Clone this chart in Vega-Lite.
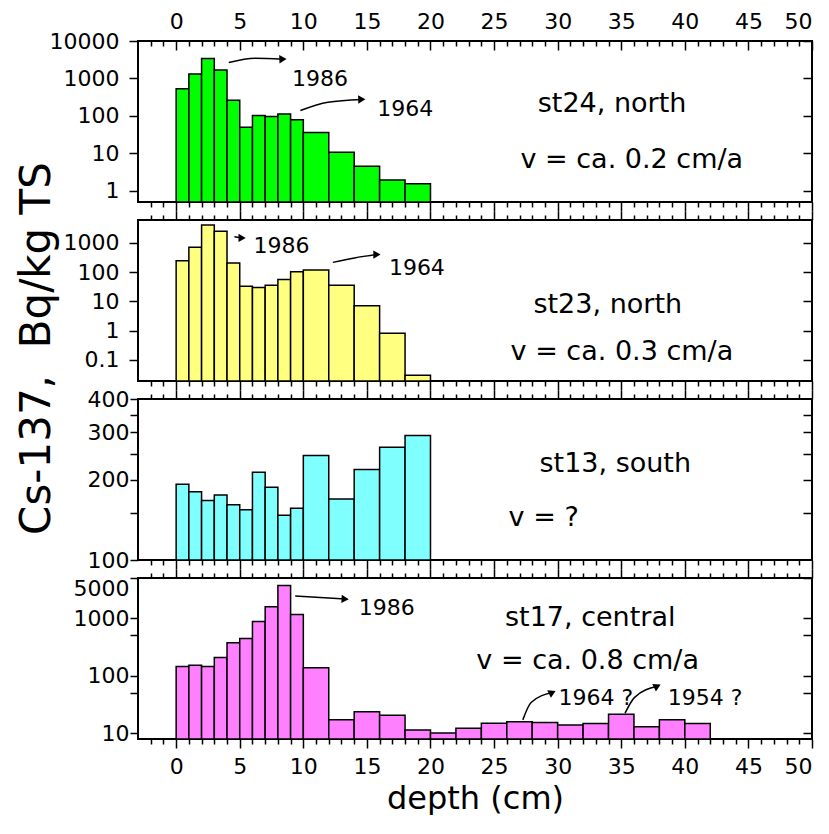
{
  "$schema": "https://vega.github.io/schema/vega-lite/v6.json",
  "padding": {"left": 14, "top": 5, "right": 0, "bottom": 0},
  "background": "white",
  "spacing": 18,
  "bounds": "flush",
  "config": {
    "view": {"stroke": "black", "strokeWidth": 2},
    "axis": {"domain": false, "grid": false, "tickColor": "black", "tickWidth": 1.5, "labelColor": "black", "labelFont": "DejaVu Sans", "labelFontSize": 22, "titleFont": "DejaVu Sans", "titleColor": "black", "titleFontWeight": "normal", "labelOverlap": false, "labelBound": false},
    "text": {"font": "DejaVu Sans", "color": "black"}
  },
  "datasets": {
    "b24": [
      {"from": 0, "to": 1, "cs": 533}, {"from": 1, "to": 2, "cs": 1306}, {"from": 2, "to": 3, "cs": 3396}, {"from": 3, "to": 4, "cs": 1668},
      {"from": 4, "to": 5, "cs": 261}, {"from": 5, "to": 6, "cs": 50}, {"from": 6, "to": 7, "cs": 103}, {"from": 7, "to": 8, "cs": 96},
      {"from": 8, "to": 9, "cs": 113}, {"from": 9, "to": 10, "cs": 79}, {"from": 10, "to": 12, "cs": 36}, {"from": 12, "to": 14, "cs": 10.7},
      {"from": 14, "to": 16, "cs": 4.5}, {"from": 16, "to": 18, "cs": 1.93}, {"from": 18, "to": 20, "cs": 1.54}
    ],
    "b23": [
      {"from": 0, "to": 1, "cs": 245}, {"from": 1, "to": 2, "cs": 705}, {"from": 2, "to": 3, "cs": 4045}, {"from": 3, "to": 4, "cs": 2455},
      {"from": 4, "to": 5, "cs": 204}, {"from": 5, "to": 6, "cs": 33}, {"from": 6, "to": 7, "cs": 29.5}, {"from": 7, "to": 8, "cs": 35.6},
      {"from": 8, "to": 9, "cs": 55.6}, {"from": 9, "to": 10, "cs": 102}, {"from": 10, "to": 12, "cs": 117}, {"from": 12, "to": 14, "cs": 35.6},
      {"from": 14, "to": 16, "cs": 7.0}, {"from": 16, "to": 18, "cs": 0.81}, {"from": 18, "to": 20, "cs": 0.03}
    ],
    "b13": [
      {"from": 0, "to": 1, "cs": 192}, {"from": 1, "to": 2, "cs": 180}, {"from": 2, "to": 3, "cs": 167}, {"from": 3, "to": 4, "cs": 175},
      {"from": 4, "to": 5, "cs": 161}, {"from": 5, "to": 6, "cs": 154}, {"from": 6, "to": 7, "cs": 213}, {"from": 7, "to": 8, "cs": 187},
      {"from": 8, "to": 9, "cs": 147}, {"from": 9, "to": 10, "cs": 156}, {"from": 10, "to": 12, "cs": 246}, {"from": 12, "to": 14, "cs": 169},
      {"from": 14, "to": 16, "cs": 218}, {"from": 16, "to": 18, "cs": 264}, {"from": 18, "to": 20, "cs": 292}
    ],
    "b17": [
      {"from": 0, "to": 1, "cs": 144}, {"from": 1, "to": 2, "cs": 152}, {"from": 2, "to": 3, "cs": 144}, {"from": 3, "to": 4, "cs": 206},
      {"from": 4, "to": 5, "cs": 374}, {"from": 5, "to": 6, "cs": 444}, {"from": 6, "to": 7, "cs": 873}, {"from": 7, "to": 8, "cs": 1585},
      {"from": 8, "to": 9, "cs": 3715}, {"from": 9, "to": 10, "cs": 1153}, {"from": 10, "to": 12, "cs": 137}, {"from": 12, "to": 14, "cs": 17},
      {"from": 14, "to": 16, "cs": 23.5}, {"from": 16, "to": 18, "cs": 20.5}, {"from": 18, "to": 20, "cs": 11.3}, {"from": 20, "to": 22, "cs": 10.0},
      {"from": 22, "to": 24, "cs": 12.2}, {"from": 24, "to": 26, "cs": 14.9}, {"from": 26, "to": 28, "cs": 15.7}, {"from": 28, "to": 30, "cs": 15.3},
      {"from": 30, "to": 32, "cs": 13.8}, {"from": 32, "to": 34, "cs": 14.7}, {"from": 34, "to": 36, "cs": 21.4}, {"from": 36, "to": 38, "cs": 12.9},
      {"from": 38, "to": 40, "cs": 17.0}, {"from": 40, "to": 42, "cs": 14.7}
    ],
    "t24": [{"x": 34.28, "y": 213, "label": "st24, north"}, {"x": 35.83, "y": 6.56, "label": "v = ca. 0.2 cm/a"}],
    "y24": [{"x": 11.32, "y": 964, "label": "1986"}, {"x": 18.02, "y": 154, "label": "1964"}],
    "a24": [
      {"id": "a", "seq": 1, "x": 4.14, "y": 2655}, {"id": "a", "seq": 2, "x": 6.2, "y": 3450}, {"id": "a", "seq": 3, "x": 8.4, "y": 3271},
      {"id": "b", "seq": 1, "x": 9.77, "y": 139}, {"id": "b", "seq": 2, "x": 11.93, "y": 231}, {"id": "b", "seq": 3, "x": 14.6, "y": 275}
    ],
    "h24": [{"x": 8.4, "y": 3271}, {"x": 14.6, "y": 275}],
    "t23": [{"x": 33.94, "y": 7.45, "label": "st23, north"}, {"x": 35.05, "y": 0.183, "label": "v = ca. 0.3 cm/a"}],
    "y23": [{"x": 8.28, "y": 763, "label": "1986"}, {"x": 18.93, "y": 137, "label": "1964"}],
    "a23": [
      {"id": "a", "seq": 1, "x": 4.58, "y": 1611}, {"id": "a", "seq": 2, "x": 5.19, "y": 1464},
      {"id": "b", "seq": 1, "x": 12.32, "y": 214}, {"id": "b", "seq": 2, "x": 14.02, "y": 304}, {"id": "b", "seq": 3, "x": 15.79, "y": 395}
    ],
    "h23": [{"x": 5.19, "y": 1464}, {"x": 15.79, "y": 395}],
    "t13": [{"x": 34.53, "y": 229, "label": "st13, south"}, {"x": 28.9, "y": 143, "label": "v = ?"}],
    "t17": [{"x": 32.56, "y": 1000, "label": "st17, central"}, {"x": 32.36, "y": 178, "label": "v = ca. 0.8 cm/a"}],
    "y17": [{"x": 16.57, "y": 1489, "label": "1986"}, {"x": 33.0, "y": 41.5, "label": "1964 ?"}, {"x": 41.6, "y": 41.5, "label": "1954 ?"}],
    "a17": [
      {"id": "a", "seq": 1, "x": 9.36, "y": 2427}, {"id": "a", "seq": 2, "x": 13.29, "y": 2153},
      {"id": "b", "seq": 1, "x": 27.26, "y": 17.0}, {"id": "b", "seq": 2, "x": 27.91, "y": 34.0}, {"id": "b", "seq": 3, "x": 29.58, "y": 50.9},
      {"id": "c", "seq": 1, "x": 35.3, "y": 22.3}, {"id": "c", "seq": 2, "x": 36.03, "y": 41.5}, {"id": "c", "seq": 3, "x": 37.84, "y": 65.6}
    ],
    "h17a": [{"x": 13.29, "y": 2153}],
    "h17b": [{"x": 29.58, "y": 50.9}, {"x": 37.84, "y": 65.6}]
  },
  "vconcat": [
    {
      "width": 674, "height": 161,
      "resolve": {"axis": {"x": "independent", "y": "independent"}},
      "layer": [
        {
          "data": {"name": "b24"},
          "mark": {"type": "bar", "fill": "#00ff00", "stroke": "black", "strokeWidth": 1.5},
          "encoding": {
            "x": {"field": "from", "type": "quantitative", "scale": {"domain": [-3, 50], "nice": false, "zero": false},
              "axis": {"orient": "bottom", "title": null, "labels": false, "values": [-2,-1,0,1,2,3,4,5,6,7,8,9,10,11,12,13,14,15,16,17,18,19,20,21,22,23,24,25,26,27,28,29,30,31,32,33,34,35,36,37,38,39,40,41,42,43,44,45,46,47,48,49,50],
                "tickSize": {"condition": {"test": "datum.value % 5 === 0", "value": 9}, "value": 5}}},
            "x2": {"field": "to"},
            "y": {"field": "cs", "type": "quantitative", "scale": {"type": "log", "domain": [0.5, 10000], "nice": false},
              "axis": {"orient": "left", "title": null, "values": [1, 10, 100, 1000, 10000], "labelExpr": "'' + datum.value", "tickSize": 9, "labelPadding": 10}},
            "y2": {"datum": 0.5}
          }
        },
        {
          "data": {"name": "a24"},
          "mark": {"type": "line", "color": "black", "strokeWidth": 1.5, "interpolate": "monotone"},
          "encoding": {
            "x": {"field": "x", "type": "quantitative", "scale": {"domain": [-3, 50], "nice": false, "zero": false}, "axis": null},
            "y": {"field": "y", "type": "quantitative", "scale": {"type": "log", "domain": [0.5, 10000], "nice": false}, "axis": null},
            "detail": {"field": "id"}, "order": {"field": "seq"}
          }
        },
        {
          "data": {"name": "h24"},
          "mark": {"type": "point", "shape": "triangle-right", "filled": true, "color": "black", "opacity": 1, "size": 70, "angle": -2},
          "encoding": {
            "x": {"field": "x", "type": "quantitative", "scale": {"domain": [-3, 50], "nice": false, "zero": false}, "axis": null},
            "y": {"field": "y", "type": "quantitative", "scale": {"type": "log", "domain": [0.5, 10000], "nice": false}, "axis": null}
          }
        },
        {
          "data": {"name": "y24"},
          "mark": {"type": "text", "fontSize": 22},
          "encoding": {
            "x": {"field": "x", "type": "quantitative", "scale": {"domain": [-3, 50], "nice": false, "zero": false}, "axis": null},
            "y": {"field": "y", "type": "quantitative", "scale": {"type": "log", "domain": [0.5, 10000], "nice": false}, "axis": null},
            "text": {"field": "label"}
          }
        },
        {
          "data": {"name": "t24"},
          "mark": {"type": "text", "fontSize": 27},
          "encoding": {
            "x": {"field": "x", "type": "quantitative", "scale": {"domain": [-3, 50], "nice": false, "zero": false},
              "axis": {"orient": "top", "title": null, "values": [-2,-1,0,1,2,3,4,5,6,7,8,9,10,11,12,13,14,15,16,17,18,19,20,21,22,23,24,25,26,27,28,29,30,31,32,33,34,35,36,37,38,39,40,41,42,43,44,45,46,47,48,49,50],
                "labelExpr": "datum.value % 5 === 0 ? datum.label : ''",
                "tickSize": {"condition": {"test": "datum.value % 5 === 0", "value": -9}, "value": -5}, "labelPadding": 17}},
            "y": {"field": "y", "type": "quantitative", "scale": {"type": "log", "domain": [0.5, 10000], "nice": false},
              "axis": {"orient": "right", "title": null, "values": [1, 10, 100, 1000, 10000], "labels": false, "tickSize": -9}},
            "text": {"field": "label"}
          }
        }
      ]
    },
    {
      "width": 674, "height": 161,
      "resolve": {"axis": {"x": "independent", "y": "independent"}},
      "layer": [
        {
          "data": {"name": "b23"},
          "mark": {"type": "bar", "fill": "#ffff80", "stroke": "black", "strokeWidth": 1.5},
          "encoding": {
            "x": {"field": "from", "type": "quantitative", "scale": {"domain": [-3, 50], "nice": false, "zero": false},
              "axis": {"orient": "bottom", "title": null, "labels": false, "values": [-2,-1,0,1,2,3,4,5,6,7,8,9,10,11,12,13,14,15,16,17,18,19,20,21,22,23,24,25,26,27,28,29,30,31,32,33,34,35,36,37,38,39,40,41,42,43,44,45,46,47,48,49,50],
                "tickSize": {"condition": {"test": "datum.value % 5 === 0", "value": 9}, "value": 5}}},
            "x2": {"field": "to"},
            "y": {"field": "cs", "type": "quantitative", "scale": {"type": "log", "domain": [0.019, 6000], "nice": false},
              "axis": {"orient": "left", "title": "Cs-137,\u00a0\u00a0Bq/kg TS", "titleFontSize": 42, "titleY": 128, "titlePadding": 5, "values": [0.1, 1, 10, 100, 1000], "labelExpr": "'' + datum.value", "tickSize": 9, "labelPadding": 10}},
            "y2": {"datum": 0.019}
          }
        },
        {
          "data": {"name": "a23"},
          "mark": {"type": "line", "color": "black", "strokeWidth": 1.5, "interpolate": "monotone"},
          "encoding": {
            "x": {"field": "x", "type": "quantitative", "scale": {"domain": [-3, 50], "nice": false, "zero": false}, "axis": null},
            "y": {"field": "y", "type": "quantitative", "scale": {"type": "log", "domain": [0.019, 6000], "nice": false}, "axis": null},
            "detail": {"field": "id"}, "order": {"field": "seq"}
          }
        },
        {
          "data": {"name": "h23"},
          "mark": {"type": "point", "shape": "triangle-right", "filled": true, "color": "black", "opacity": 1, "size": 70, "angle": 0},
          "encoding": {
            "x": {"field": "x", "type": "quantitative", "scale": {"domain": [-3, 50], "nice": false, "zero": false}, "axis": null},
            "y": {"field": "y", "type": "quantitative", "scale": {"type": "log", "domain": [0.019, 6000], "nice": false}, "axis": null}
          }
        },
        {
          "data": {"name": "y23"},
          "mark": {"type": "text", "fontSize": 22},
          "encoding": {
            "x": {"field": "x", "type": "quantitative", "scale": {"domain": [-3, 50], "nice": false, "zero": false}, "axis": null},
            "y": {"field": "y", "type": "quantitative", "scale": {"type": "log", "domain": [0.019, 6000], "nice": false}, "axis": null},
            "text": {"field": "label"}
          }
        },
        {
          "data": {"name": "t23"},
          "mark": {"type": "text", "fontSize": 27},
          "encoding": {
            "x": {"field": "x", "type": "quantitative", "scale": {"domain": [-3, 50], "nice": false, "zero": false},
              "axis": {"orient": "top", "title": null, "labels": false, "values": [-2,-1,0,1,2,3,4,5,6,7,8,9,10,11,12,13,14,15,16,17,18,19,20,21,22,23,24,25,26,27,28,29,30,31,32,33,34,35,36,37,38,39,40,41,42,43,44,45,46,47,48,49,50],
                "tickSize": {"condition": {"test": "datum.value % 5 === 0", "value": 9}, "value": 5}}},
            "y": {"field": "y", "type": "quantitative", "scale": {"type": "log", "domain": [0.019, 6000], "nice": false},
              "axis": {"orient": "right", "title": null, "values": [0.1, 1, 10, 100, 1000], "labels": false, "tickSize": -9}},
            "text": {"field": "label"}
          }
        }
      ]
    },
    {
      "width": 674, "height": 161,
      "resolve": {"axis": {"x": "independent", "y": "independent"}},
      "layer": [
        {
          "data": {"name": "b13"},
          "mark": {"type": "bar", "fill": "#80ffff", "stroke": "black", "strokeWidth": 1.5},
          "encoding": {
            "x": {"field": "from", "type": "quantitative", "scale": {"domain": [-3, 50], "nice": false, "zero": false},
              "axis": {"orient": "bottom", "title": null, "labels": false, "values": [-2,-1,0,1,2,3,4,5,6,7,8,9,10,11,12,13,14,15,16,17,18,19,20,21,22,23,24,25,26,27,28,29,30,31,32,33,34,35,36,37,38,39,40,41,42,43,44,45,46,47,48,49,50],
                "tickSize": {"condition": {"test": "datum.value % 5 === 0", "value": 9}, "value": 5}}},
            "x2": {"field": "to"},
            "y": {"field": "cs", "type": "quantitative", "scale": {"type": "log", "domain": [100, 400], "nice": false},
              "axis": {"orient": "left", "title": null, "values": [100, 150, 200, 250, 300, 350, 400], "labelExpr": "datum.value % 100 === 0 ? '' + datum.value : ''", "tickSize": 8, "labelPadding": 1}},
            "y2": {"datum": 100}
          }
        },
        {
          "data": {"name": "t13"},
          "mark": {"type": "text", "fontSize": 27},
          "encoding": {
            "x": {"field": "x", "type": "quantitative", "scale": {"domain": [-3, 50], "nice": false, "zero": false},
              "axis": {"orient": "top", "title": null, "labels": false, "values": [-2,-1,0,1,2,3,4,5,6,7,8,9,10,11,12,13,14,15,16,17,18,19,20,21,22,23,24,25,26,27,28,29,30,31,32,33,34,35,36,37,38,39,40,41,42,43,44,45,46,47,48,49,50],
                "tickSize": {"condition": {"test": "datum.value % 5 === 0", "value": 9}, "value": 5}}},
            "y": {"field": "y", "type": "quantitative", "scale": {"type": "log", "domain": [100, 400], "nice": false},
              "axis": {"orient": "right", "title": null, "values": [150, 200, 250, 300, 350], "labels": false, "tickSize": -9}},
            "text": {"field": "label"}
          }
        }
      ]
    },
    {
      "width": 674, "height": 161,
      "resolve": {"axis": {"x": "independent", "y": "independent"}},
      "layer": [
        {
          "data": {"name": "b17"},
          "mark": {"type": "bar", "fill": "#ff80ff", "stroke": "black", "strokeWidth": 1.5},
          "encoding": {
            "x": {"field": "from", "type": "quantitative", "scale": {"domain": [-3, 50], "nice": false, "zero": false},
              "axis": {"orient": "bottom", "title": "depth (cm)", "titleFontSize": 32, "titlePadding": 6, "values": [-2,-1,0,1,2,3,4,5,6,7,8,9,10,11,12,13,14,15,16,17,18,19,20,21,22,23,24,25,26,27,28,29,30,31,32,33,34,35,36,37,38,39,40,41,42,43,44,45,46,47,48,49,50],
                "labelExpr": "datum.value % 5 === 0 ? datum.label : ''",
                "tickSize": {"condition": {"test": "datum.value % 5 === 0", "value": 9}, "value": 5}, "labelPadding": 8}},
            "x2": {"field": "to"},
            "y": {"field": "cs", "type": "quantitative", "scale": {"type": "log", "domain": [7.9, 5000], "nice": false},
              "axis": {"orient": "left", "title": null, "values": [10, 50, 100, 500, 1000, 5000], "labelExpr": "datum.value === 50 || datum.value === 500 ? '' : '' + datum.value", "tickSize": 8, "labelPadding": 1, "labelFlush": true}},
            "y2": {"datum": 7.9}
          }
        },
        {
          "data": {"name": "a17"},
          "mark": {"type": "line", "color": "black", "strokeWidth": 1.5, "interpolate": "monotone"},
          "encoding": {
            "x": {"field": "x", "type": "quantitative", "scale": {"domain": [-3, 50], "nice": false, "zero": false}, "axis": null},
            "y": {"field": "y", "type": "quantitative", "scale": {"type": "log", "domain": [7.9, 5000], "nice": false}, "axis": null},
            "detail": {"field": "id"}, "order": {"field": "seq"}
          }
        },
        {
          "data": {"name": "h17a"},
          "mark": {"type": "point", "shape": "triangle-right", "filled": true, "color": "black", "opacity": 1, "size": 70, "angle": 3},
          "encoding": {
            "x": {"field": "x", "type": "quantitative", "scale": {"domain": [-3, 50], "nice": false, "zero": false}, "axis": null},
            "y": {"field": "y", "type": "quantitative", "scale": {"type": "log", "domain": [7.9, 5000], "nice": false}, "axis": null}
          }
        },
        {
          "data": {"name": "h17b"},
          "mark": {"type": "point", "shape": "triangle-right", "filled": true, "color": "black", "opacity": 1, "size": 70, "angle": -26},
          "encoding": {
            "x": {"field": "x", "type": "quantitative", "scale": {"domain": [-3, 50], "nice": false, "zero": false}, "axis": null},
            "y": {"field": "y", "type": "quantitative", "scale": {"type": "log", "domain": [7.9, 5000], "nice": false}, "axis": null}
          }
        },
        {
          "data": {"name": "y17"},
          "mark": {"type": "text", "fontSize": 22},
          "encoding": {
            "x": {"field": "x", "type": "quantitative", "scale": {"domain": [-3, 50], "nice": false, "zero": false}, "axis": null},
            "y": {"field": "y", "type": "quantitative", "scale": {"type": "log", "domain": [7.9, 5000], "nice": false}, "axis": null},
            "text": {"field": "label"}
          }
        },
        {
          "data": {"name": "t17"},
          "mark": {"type": "text", "fontSize": 27},
          "encoding": {
            "x": {"field": "x", "type": "quantitative", "scale": {"domain": [-3, 50], "nice": false, "zero": false},
              "axis": {"orient": "top", "title": null, "labels": false, "values": [-2,-1,0,1,2,3,4,5,6,7,8,9,10,11,12,13,14,15,16,17,18,19,20,21,22,23,24,25,26,27,28,29,30,31,32,33,34,35,36,37,38,39,40,41,42,43,44,45,46,47,48,49,50],
                "tickSize": {"condition": {"test": "datum.value % 5 === 0", "value": 9}, "value": 5}}},
            "y": {"field": "y", "type": "quantitative", "scale": {"type": "log", "domain": [7.9, 5000], "nice": false},
              "axis": {"orient": "right", "title": null, "values": [10, 50, 100, 500, 1000, 5000], "labels": false, "tickSize": -9}},
            "text": {"field": "label"}
          }
        }
      ]
    }
  ]
}
